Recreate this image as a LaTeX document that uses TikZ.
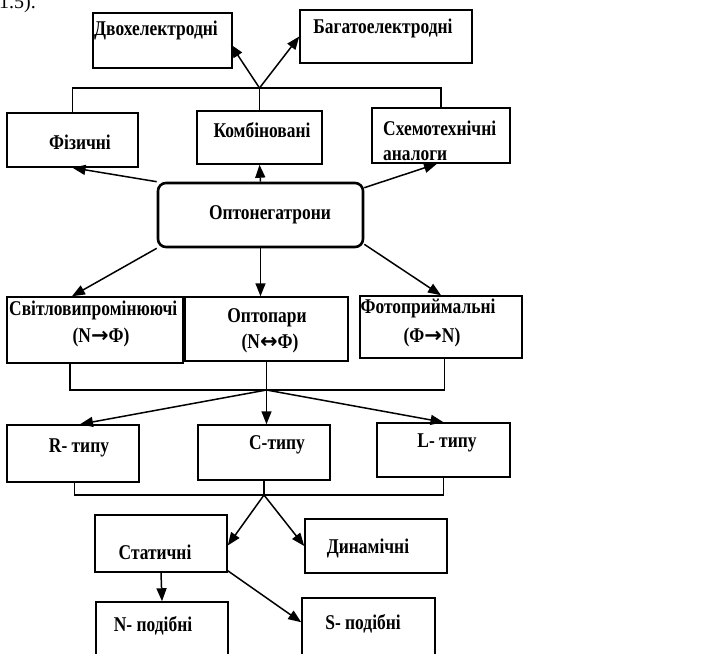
\documentclass[tikz,border=0pt]{standalone}
\usepackage{fontspec}
\setmainfont{Liberation Serif}
\newfontfamily\lblfont[FakeStretch=0.83]{Liberation Serif}
\newfontfamily\arrfont{DejaVu Sans}
\usetikzlibrary{arrows.meta,calc}
\newcommand{\ra}{{\arrfont\bfseries →}}
\newcommand{\lra}{{\arrfont\bfseries ↔}}
\begin{document}
\begin{tikzpicture}[x=1pt,y=-1pt,
  box/.style={draw, line width=1.5pt, inner sep=0pt},
  lbl/.style={font=\lblfont\fontsize{21}{23}\selectfont\bfseries, inner sep=0pt},
  arr/.style={line width=1.5pt, -{Triangle[length=13pt,width=10pt]}},
  ln/.style={line width=1.5pt}]
\useasboundingbox (0,0) rectangle (701,653);
\clip (0,0) rectangle (701,653);

% boxes
\node[box, minimum width=139pt, minimum height=55pt] (dvo) at (162.5,40.5) {};
\node[box, minimum width=172pt, minimum height=53pt] (bag) at (386,36.5) {};
\node[box, minimum width=131pt, minimum height=54pt] (fiz) at (72.5,140) {};
\node[box, minimum width=125pt, minimum height=53pt] (komb) at (259.5,137.5) {};
\node[box, minimum width=138pt, minimum height=55pt] (skhem) at (441,135.5) {};
\node[box, line width=2.6pt, rounded corners=8pt, minimum width=205pt, minimum height=64pt] (opto) at (260.5,215) {};
\node[box, minimum width=176pt, minimum height=66pt] (svit) at (95,330) {};
\node[box, minimum width=163pt, minimum height=64pt] (optop) at (266.5,329) {};
\node[box, minimum width=162pt, minimum height=62pt] (foto) at (441,327) {};
\node[box, minimum width=132pt, minimum height=57pt] (R) at (73,453.5) {};
\node[box, minimum width=132pt, minimum height=55pt] (C) at (264,452.5) {};
\node[box, minimum width=133pt, minimum height=54pt] (L) at (443.5,450) {};
\node[box, minimum width=132pt, minimum height=57pt] (stat) at (161,543.5) {};
\node[box, minimum width=142pt, minimum height=54pt] (dyn) at (376,546) {};
\node[box, minimum width=132pt, minimum height=60pt] (N) at (162,632) {};
\node[box, minimum width=133pt, minimum height=64pt] (S) at (368.5,630) {};

% labels
\node[anchor=base west, inner sep=0pt, font=\fontsize{20}{22}\selectfont] (pg) at (-1,9) {1.5).};
\node[lbl, anchor=west] (tdvo) at (94,30) {Двохелектродні};
\node[lbl] (tbag) at (383,28) {Багатоелектродні};
\node[lbl] (tfiz) at (80,142) {Фізичні};
\node[lbl] (tkomb) at (262,130) {Комбіновані};
\node[lbl, align=left, anchor=west, font=\lblfont\fontsize{21}{25}\selectfont\bfseries] (tskhem) at (383,140.5) {Схемотехнічні\\аналоги};
\node[lbl] (topto) at (270,215) {Оптонегатрони};
\node[lbl, anchor=west] (tsvit1) at (9,310) {Світловипромінюючі};
\node[lbl] (tsvit2) at (101,337) {(N\ra Ф)};
\node[lbl] (toptop1) at (267,318) {Оптопари};
\node[lbl] (toptop2) at (270,343) {(N\lra Ф)};
\node[lbl] (tfoto1) at (428,308) {Фотоприймальні};
\node[lbl] (tfoto2) at (432,337) {(Ф\ra N)};
\node[lbl] (tR) at (79,448) {R- типу};
\node[lbl] (tC) at (277,445) {С-типу};
\node[lbl] (tL) at (447,443) {L- типу};
\node[lbl] (tstat) at (155,552) {Статичні};
\node[lbl] (tdyn) at (368,548) {Динамічні};
\node[lbl] (tN) at (153,626) {N- подібні};
\node[lbl] (tS) at (363,624) {S- подібні};

% connectors: top group
\coordinate (j1) at (komb.north |- 0,88);
\draw[ln] (fiz.north) |- (j1) -| (skhem.north);
\draw[ln] (komb.north) -- (j1);
\draw[arr] (j1) -- ($(dvo.east)+(-2,4)$);
\draw[arr] (j1) -- (bag.west);
\draw[arr] (opto.north west) -- (fiz.south);
\draw[arr] (opto.north) -- (komb.south);
\draw[arr] ($(opto.north east)+(0,6)$) -- ($(skhem.south)+(-4,0)$);

% middle group
\draw[arr] (opto.south west) -- ($(svit.north west)!0.37!(svit.north east)$);
\draw[arr] (opto.south) -- (opto.south |- optop.north);
\draw[arr] ($(opto.south east)+(0,-4)$) -- (foto.north);
\coordinate (j2) at (optop.south |- 0,390);
\draw[ln] ($(svit.south west)!0.36!(svit.south east)$) |- (j2) -| ($(foto.south west)!0.52!(foto.south east)$);
\draw[ln] (optop.south) -- (j2);
\draw[arr] (j2) -- ($(R.north)+(7,0)$);
\draw[arr] (j2) -- (j2 |- C.north);
\draw[arr] (j2) -- (L.north);

% lower group
\coordinate (j3) at (C.south |- 0,495);
\draw[ln] ($(R.south west)!0.51!(R.south east)$) |- (j3) -| (L.south);
\draw[ln] (C.south) -- (j3);
\draw[arr] (j3) -- ($(stat.east)+(0,2)$);
\draw[arr] (j3) -- (dyn.west);
\draw[arr] (stat.south) -- (N.north);
\draw[arr] ($(stat.south east)+(0,-2)$) -- ($(S.north west)+(0,25)$);
\end{tikzpicture}
\end{document}
